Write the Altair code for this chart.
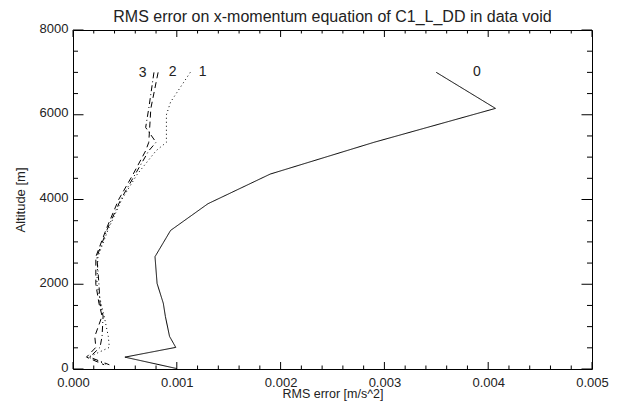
import altair as alt
import pandas as pd

# ---- data -------------------------------------------------------------
series_names = ["0", "1", "2", "3"]

alt0 = [7000, 6150, 5350, 4600, 3900, 3270, 2650, 2020, 1550, 1240, 770, 510, 280, 10]
rms0 = [0.0035, 0.00407, 0.0029, 0.0019, 0.0013, 0.00094, 0.00079, 0.00081,
        0.00087, 0.00089, 0.00093, 0.00099, 0.0005, 0.001]

alt1 = [7000, 6300, 6000, 5350, 5150, 4600, 4000, 3300, 2650, 2000, 1550, 1250, 770, 510, 280, 100]
rms1 = [0.00113, 0.00094, 0.00090, 0.00090, 0.00080, 0.00062, 0.00047, 0.00034,
        0.00024, 0.00023, 0.00027, 0.00030, 0.00034, 0.00035, 0.00015, 0.00033]

alt2 = [7000, 6150, 5350, 5150, 4600, 4000, 3300, 2650, 2000, 1550, 1250, 770, 510, 280, 100]
rms2 = [0.00082, 0.00075, 0.00073, 0.00070, 0.00058, 0.00044, 0.00032, 0.00022,
        0.00022, 0.00025, 0.00028, 0.00021, 0.00022, 0.00013, 0.00030]

alt3 = [7000, 6150, 5700, 5350, 5150, 4600, 4000, 3300, 2650, 2000, 1550, 1250, 770, 510, 280, 100]
rms3 = [0.00078, 0.00073, 0.00070, 0.00080, 0.00073, 0.00060, 0.00046, 0.00033,
        0.00023, 0.00025, 0.00026, 0.00029, 0.00028, 0.00026, 0.00016, 0.00035]

label_text = ["0", "1", "2", "3"]
label_rms = [0.00389, 0.00125, 0.00096, 0.00067]
label_alt = [7000, 7000, 7000, 6980]

x_major = [0.000, 0.001, 0.002, 0.003, 0.004, 0.005]
x_minor = [round(i * 0.0002, 4) for i in range(26) if i % 5 != 0]
y_major = [0, 2000, 4000, 6000, 8000]
y_minor = [v for v in range(0, 8001, 500) if v % 2000 != 0]

title_text = "RMS error on x-momentum equation of C1_L_DD in data void"
x_title = "RMS error [m/s^2]"
y_title = "Altitude [m]"

# ---- build tables ------------------------------------------------------
rows = []
for name, a, r in [("0", alt0, rms0), ("1", alt1, rms1), ("2", alt2, rms2), ("3", alt3, rms3)]:
    for i, (aa, rr) in enumerate(zip(a, r)):
        rows.append({"series": name, "alt": aa, "rms": rr, "idx": i})
df = pd.DataFrame(rows)
labels_df = pd.DataFrame({"t": label_text, "rms": label_rms, "alt": label_alt})

W, H = 519, 339
FONT = "Liberation Sans"
TXT = "#222222"

xs = alt.Scale(domain=[0, 0.005], nice=False, zero=False)
ys = alt.Scale(domain=[0, 8000], nice=False, zero=False)

lines = alt.Chart(df).mark_line(color="black", strokeWidth=1).encode(
    x=alt.X("rms:Q", scale=xs,
            axis=alt.Axis(values=x_major, format=".3f", title=x_title, ticks=False,
                          tickSize=0, domain=False, grid=False, labelPadding=7,
                          labelFlush=False, titlePadding=-2, labelFont=FONT,
                          titleFont=FONT, labelFontSize=13, titleFontSize=12.5,
                          labelColor=TXT, titleColor=TXT, titleFontWeight="normal")),
    y=alt.Y("alt:Q", scale=ys,
            axis=alt.Axis(values=y_major, format="d", title=y_title, ticks=False,
                          tickSize=0, domain=False, grid=False, labelPadding=5,
                          labelOffset=-2, labelFlush=False, titlePadding=12,
                          labelFont=FONT, titleFont=FONT, labelFontSize=13,
                          titleFontSize=13, labelColor=TXT, titleColor=TXT,
                          titleFontWeight="normal")),
    order="idx:Q",
    detail="series:N",
    strokeDash=alt.StrokeDash("series:N",
                              scale=alt.Scale(domain=series_names,
                                              range=[[1, 0], [1, 3], [6, 4], [6, 3, 1, 3]]),
                              legend=None),
)

text = alt.Chart(labels_df).mark_text(fontSize=14, font=FONT, color=TXT,
                                      baseline="middle", align="center").encode(
    x=alt.X("rms:Q", scale=xs), y=alt.Y("alt:Q", scale=ys), text="t:N")


def xticks(vals, length, top):
    d = pd.DataFrame({"v": vals})
    if top:
        return alt.Chart(d).mark_rule(color="black", strokeWidth=1).encode(
            x=alt.X("v:Q", scale=xs), y=alt.value(0), y2=alt.value(length))
    return alt.Chart(d).mark_rule(color="black", strokeWidth=1).encode(
        x=alt.X("v:Q", scale=xs), y=alt.value(H), y2=alt.value(H - length))


def yticks(vals, length, right):
    d = pd.DataFrame({"v": vals})
    if right:
        return alt.Chart(d).mark_rule(color="black", strokeWidth=1).encode(
            y=alt.Y("v:Q", scale=ys), x=alt.value(W), x2=alt.value(W - length))
    return alt.Chart(d).mark_rule(color="black", strokeWidth=1).encode(
        y=alt.Y("v:Q", scale=ys), x=alt.value(0), x2=alt.value(length))


tick_layers = [
    xticks(x_major, 7, False), xticks(x_minor, 3.5, False),
    xticks(x_major, 7, True), xticks(x_minor, 3.5, True),
    yticks(y_major, 10.5, False), yticks(y_minor, 5, False),
    yticks(y_major, 10.5, True), yticks(y_minor, 5, True),
]

chart = alt.layer(lines, text, *tick_layers).properties(
    width=W, height=H,
    background="white",
    title=alt.TitleParams(title_text, font=FONT, fontSize=16, fontWeight="normal",
                          color=TXT, anchor="middle", offset=-3),
    autosize=alt.AutoSizeParams(type="none"),
    padding={"left": 65, "top": 22, "right": 19, "bottom": 32},
).configure_view(stroke="black", strokeWidth=1)

chart.save("out.html", embed_options={"renderer": "svg", "actions": False})
